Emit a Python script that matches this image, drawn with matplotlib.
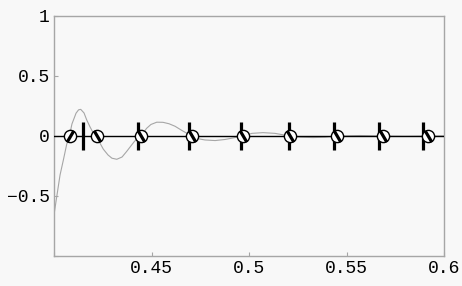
import matplotlib
matplotlib.use("Agg")
import matplotlib.pyplot as plt

# gray curve
curva_x = [0.4000, 0.4014, 0.4031, 0.4048, 0.4065, 0.4079, 0.4092, 0.4113, 0.4126,
           0.4137, 0.4154, 0.4168, 0.4185, 0.4202, 0.4219, 0.4236, 0.4253, 0.4277,
           0.4297, 0.4322, 0.4349, 0.4373, 0.4390, 0.4410, 0.4427, 0.4446, 0.4475,
           0.4497, 0.4527, 0.4559, 0.4590, 0.4621, 0.4656, 0.4706, 0.4733, 0.4774,
           0.4826, 0.4877, 0.4928, 0.4969, 0.5015, 0.5072, 0.5133, 0.5209, 0.5262,
           0.5328, 0.5390, 0.5453, 0.5569, 0.5689, 0.5800, 0.5919, 0.6000]
curva_y = [-0.658, -0.506, -0.325, -0.200, -0.070, 0.000, 0.100, 0.190, 0.218,
           0.222, 0.192, 0.133, 0.075, 0.023, 0.000, -0.060, -0.110, -0.158,
           -0.185, -0.194, -0.175, -0.128, -0.092, -0.050, -0.019, 0.000, 0.064,
           0.096, 0.115, 0.114, 0.102, 0.081, 0.046, 0.000, -0.021, -0.033,
           -0.038, -0.029, -0.013, 0.000, 0.022, 0.028, 0.022, 0.000, -0.010,
           -0.013, -0.010, 0.000, 0.004, 0.000, -0.002, 0.000, 0.001]

# circled markers and bars on the zero line
marcas_x = [0.4082, 0.4219, 0.4446, 0.4706, 0.4969, 0.5209, 0.5453, 0.5689, 0.5919]
barras_x = [0.4147, 0.4432, 0.4694, 0.4960, 0.5203, 0.5437, 0.5668, 0.5891]
alto_barra = 0.115

xticks = [0.4, 0.45, 0.5, 0.55, 0.6]
xtick_labels = ["", "0.45", "0.5", "0.55", "0.6"]
yticks = [-1, -0.5, 0, 0.5, 1]
ytick_labels = ["", "\u22120.5", "0", "0.5", "1"]

fondo = "#f8f8f8"
gris = "#a6a6a6"

fig = plt.figure(figsize=(4.62, 2.86), dpi=100, facecolor=fondo)
ax = fig.add_axes([54 / 462, 1 - 256 / 286, 390 / 462, 240 / 286], facecolor=fondo)

ax.plot(curva_x, curva_y, color=gris, lw=0.8, zorder=2)
ax.axhline(0, color="black", lw=1.0, zorder=3)
ax.vlines(barras_x, -alto_barra, alto_barra, color="black", lw=2.3, zorder=4)

ax.plot(marcas_x, [0] * len(marcas_x), ls="none", marker="o", ms=8.8,
        mfc="white", mec="black", mew=1.0, zorder=5)
ax.plot(marcas_x[:1], [0], ls="none", marker=[(-0.5, -0.85), (0.5, 0.85)],
        ms=8.2, mec="black", mew=2.3, zorder=6)
ax.plot(marcas_x[1:], [0] * (len(marcas_x) - 1), ls="none",
        marker=[(-0.5, 0.85), (0.5, -0.85)], ms=8.2, mec="black", mew=2.3, zorder=6)

ax.set_xlim(0.4, 0.6)
ax.set_ylim(-1, 1)
ax.set_xticks(xticks)
ax.set_xticklabels(xtick_labels)
ax.set_yticks(yticks)
ax.set_yticklabels(ytick_labels)

for s in ax.spines.values():
    s.set_color(gris)
    s.set_linewidth(1.0)

ax.tick_params(direction="in", length=3, width=0.8, color=gris, pad=3,
               labelsize=13, labelcolor="black")
for lab in ax.get_xticklabels() + ax.get_yticklabels():
    lab.set_family(["Liberation Mono", "DejaVu Sans Mono"])

fig.savefig("out.png", dpi=100, facecolor=fondo)
